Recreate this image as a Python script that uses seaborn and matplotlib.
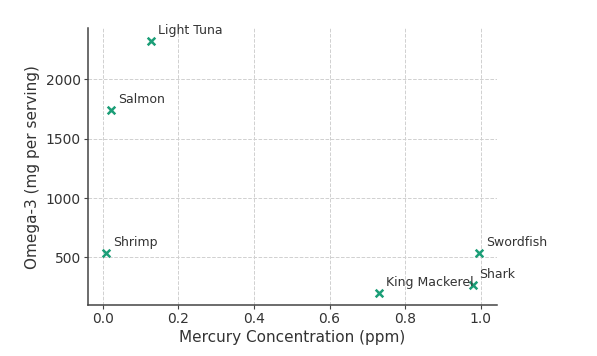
import pandas as pd
import matplotlib
matplotlib.use("Agg")
import matplotlib.pyplot as plt
import seaborn as sns

# datos
pescados = ["Light Tuna", "Salmon", "Shrimp", "Swordfish", "Shark", "King Mackerel"]
mercurio = [0.128, 0.022, 0.009, 0.995, 0.979, 0.73]
omega3 = [2325, 1745, 540, 540, 270, 205]

df = pd.DataFrame({"pez": pescados, "mercurio": mercurio, "omega3": omega3})

sns.set_style("ticks")
plt.rcParams["font.family"] = ["DejaVu Sans"]

fig = plt.figure(figsize=(5.97, 3.56), dpi=100)
ax = fig.add_axes([0.147, 0.143, 0.686, 0.778])

sns.scatterplot(data=df, x="mercurio", y="omega3", marker="x", color="#1b9e77",
                s=30, linewidth=1.8, ax=ax, zorder=3)

# etiquetas de cada pescado
for _, fila in df.iterrows():
    ax.annotate(fila["pez"], (fila["mercurio"], fila["omega3"]),
                xytext=(5, 5), textcoords="offset points",
                fontsize=9, color="#333333", ha="left")

ax.grid(True, linestyle="--", color="#d0d0d0", linewidth=0.7)
ax.set_axisbelow(True)
sns.despine(ax=ax)
for s in ["left", "bottom"]:
    ax.spines[s].set_color("#444444")
    ax.spines[s].set_linewidth(1.1)
ax.tick_params(colors="#444444", labelcolor="#333333", labelsize=10, length=3, pad=2)

ax.set_xticks([0.0, 0.2, 0.4, 0.6, 0.8, 1.0])
ax.set_yticks([500, 1000, 1500, 2000])
ax.set_xlabel("Mercury Concentration (ppm)", fontsize=11, color="#333333", labelpad=3)
ax.set_ylabel("Omega-3 (mg per serving)", fontsize=11, color="#333333")

fig.savefig("out.png", dpi=100)
